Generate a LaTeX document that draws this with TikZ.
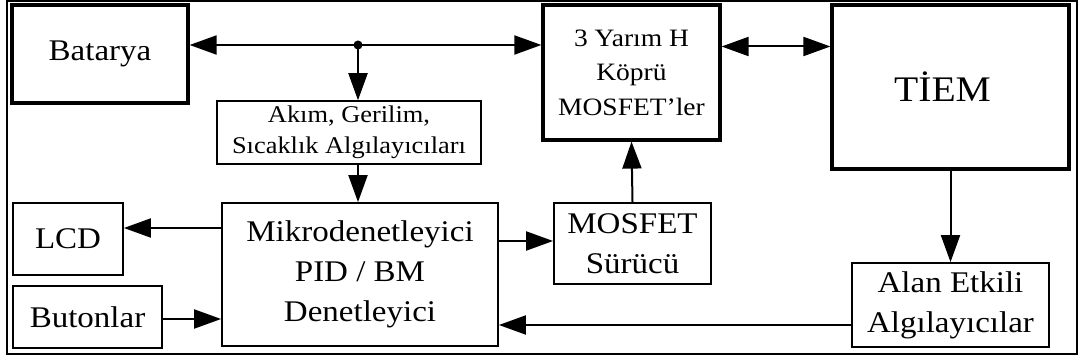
\documentclass[tikz,border=0pt]{standalone}
\usepackage{fontspec}
\setmainfont{Liberation Serif}[FakeStretch=1.1]
\usetikzlibrary{arrows.meta}
\begin{document}
\begin{tikzpicture}[x=1pt,y=-1pt,
  box/.style={draw,rectangle,inner sep=0pt,align=center,line width=1.8pt,
    font=\fontsize{30}{40}\selectfont},
  heavybox/.style={box,line width=3.2pt},
  link/.style={line width=2pt,-{Triangle[length=27pt,width=19pt]}},
  dlink/.style={line width=2pt,{Triangle[length=27pt,width=19pt]}-{Triangle[length=27pt,width=19pt]}}]
\useasboundingbox (0,0) rectangle (1081,363);
% outer frame
\draw[line width=2pt] (7,1) rectangle (1077,354);

% blocks
\node[heavybox,minimum width=176pt,minimum height=98pt] (bat) at (100,54) {Batarya};
\node[box,line width=1.5pt,minimum width=264pt,minimum height=63pt,
  font=\fontsize{24}{31}\selectfont] (akim) at (349,132.5)
  {Akım, Gerilim,\\Sıcaklık Algılayıcıları};
\node[box,minimum width=276pt,minimum height=143pt] (mcu) at (360,274.5)
  {Mikrodenetleyici\\PID / BM\\Denetleyici};
\node[box,minimum width=110pt,minimum height=72pt] (lcd) at (68,239) {LCD};
\node[box,minimum width=149pt,minimum height=62.5pt] (btn) at (87.5,317) {Butonlar};
\node[box,minimum width=157pt,minimum height=81pt] (drv) at (632.5,243.5)
  {MOSFET\\Sürücü};
\node[heavybox,minimum width=177pt,minimum height=135pt,
  font=\fontsize{25}{34.5}\selectfont] (hb) at (631.5,72.5)
  {3 Yarım H\\Köprü\\MOSFET’ler};
\node[heavybox,minimum width=237pt,minimum height=164pt,
  font=\fontsize{36}{40}\selectfont] (motor) at (950.5,87)
  {\hspace*{-16pt}TİEM};
\node[box,minimum width=197pt,minimum height=84pt] (hall) at (950.5,305)
  {Alan Etkili\\Algılayıcılar};

% supply bus with its branch point
\coordinate (tap) at (358,45);
\draw[dlink] (bat.east |- tap) -- (hb.west |- tap);
\fill (tap) circle (4.5pt);
\draw[link] (tap) -- (tap |- akim.north);
\draw[link] (akim.south -| tap) -- (mcu.north -| tap);

% controller links
\draw[link] (mcu.west |- 0,228) -- (lcd.east |- 0,228);
\draw[link] (btn.east |- 0,319) -- (mcu.west |- 0,319);
\draw[link] (mcu.east |- 0,241) -- (drv.west |- 0,241);
\draw[link] (drv.north) -- (hb.south);
\draw[dlink] (hb.east |- 0,46.5) -- (motor.west |- 0,46.5);
\draw[link] (motor.south) -- (hall.north);
\draw[link] (hall.west |- 0,325) -- (mcu.east |- 0,325);
\end{tikzpicture}
\end{document}
